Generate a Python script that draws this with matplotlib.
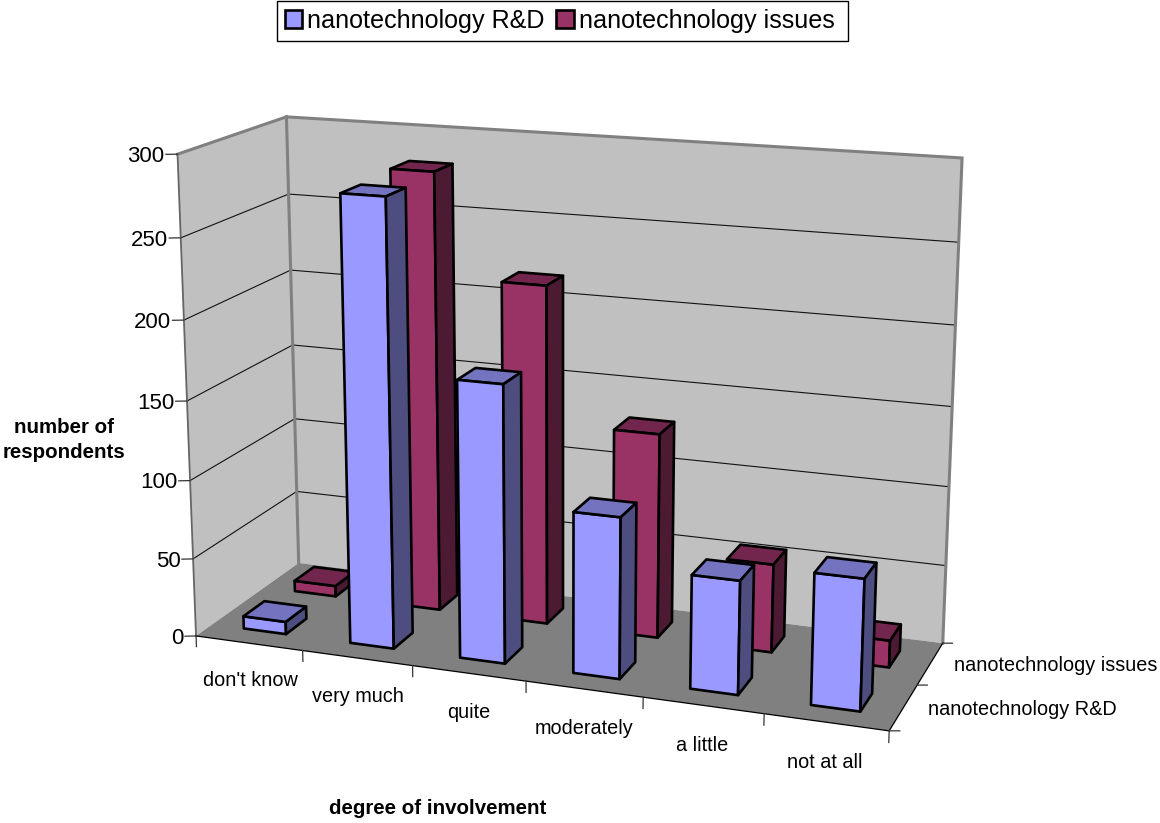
import numpy as np
import matplotlib
matplotlib.use('Agg')
import matplotlib.pyplot as plt
from matplotlib.patches import Patch, Rectangle
from mpl_toolkits.mplot3d import proj3d
from mpl_toolkits.mplot3d.art3d import Poly3DCollection, Line3DCollection

plt.rcParams['font.family'] = ['Liberation Sans', 'DejaVu Sans']

# Data
categories = ["don't know", 'very much', 'quite', 'moderately', 'a little', 'not at all']
series_names = ['nanotechnology R&D', 'nanotechnology issues']
rd_values = [8, 279, 173, 100, 70, 80]
issues_values = [7, 281, 216, 130, 56, 17]
z_ticks = [0, 50, 100, 150, 200, 250, 300]

blue = ['#9999FF', '#4D4D80', '#7373BF']
plum = ['#993366', '#4D1A33', '#73264D']

W, H = 1160, 823

# Box corners (x, y, z) and where they land in the picture, in pixels.
box_pts = [(0, 0, 0), (6, 0, 0), (6, 2, 0), (0, 2, 0), (0, 0, 300), (0, 2, 300), (6, 2, 300)]
pix_pts = [(196.7, 636), (889, 731), (943, 643), (298, 563), (177, 154), (287, 117), (962, 158)]

# Solve the camera matrix from the corners
A, b = [], []
for (x, y, z), (u, v) in zip(box_pts, pix_pts):
    A.append([x, y, z, 1, 0, 0, 0, 0, -u * x, -u * y, -u * z])
    A.append([0, 0, 0, 0, x, y, z, 1, -v * x, -v * y, -v * z])
    b += [u, v]
p = np.linalg.lstsq(np.array(A, float), np.array(b, float), rcond=None)[0]
M = np.array([p[:4], p[4:8], [0, 0, 0, 1], [p[8], p[9], p[10], 1]])

fig = plt.figure(figsize=(W / 100, H / 100), dpi=100)
ax = fig.add_axes([0, 0, 1, 1], projection='3d')
ax.get_proj = lambda: M
ax.apply_aspect = lambda position=None: None
ax.computed_zorder = False
ax.set_axis_off()
ax.viewLim.intervalx = (0, W)
ax.viewLim.intervaly = (H, 0)


def line3d(pts, color, lw, zorder=3):
    ax.add_collection3d(Line3DCollection([pts], colors=color, linewidths=lw, zorder=zorder,
                                         capstyle='projecting', joinstyle='miter'))


def label3d(x, y, z, s, dy=0, **kw):
    # Text3D has no usable extent, so place plain text at the projected point
    u, v, _ = proj3d.proj_transform(x, y, z, M)
    fig.text(float(u) / W, 1 - (float(v) + dy) / H, s, va='center', **kw)


# Walls and floor
walls = [
    ([(0, 0, 0), (0, 2, 0), (0, 2, 300), (0, 0, 300)], '#C0C0C0'),
    ([(0, 2, 0), (6, 2, 0), (6, 2, 300), (0, 2, 300)], '#C0C0C0'),
    ([(0, 0, 0), (6, 0, 0), (6, 2, 0), (0, 2, 0)], '#808080'),
]
for verts, col in walls:
    ax.add_collection3d(Poly3DCollection([verts], facecolors=col, edgecolors='none', zorder=1))

# Gridlines
for z in z_ticks[1:]:
    line3d([(0, 0, z), (0, 2, z), (6, 2, z)], '#111111', 0.8, 2)

# Wall borders
line3d([(0, 0, 300), (0, 2, 300), (0, 2, 0)], '#808080', 2.2)
line3d([(0, 2, 300), (6, 2, 300), (6, 2, 0)], '#808080', 2.2)
line3d([(0, 0, 0), (0, 0, 300)], '#666666', 1.3)
line3d([(0, 0, 0), (6, 0, 0), (6, 2, 0)], 'k', 0.9)

# Ticks
for z in z_ticks:
    line3d([(0, 0, z), (-0.085, -0.038, z)], '#333333', 0.9)
    label3d(-0.095, -0.042, z, str(z), dy=2, ha='right', fontsize=16)
for i in range(7):
    line3d([(i, 0, 0), (i, 0, -7)], '#333333', 0.9)
for i, name in enumerate(categories):
    label3d(i + 0.5, 0, -24, name, dy=1, ha='center', fontsize=14.3)
for s in range(3):
    line3d([(6, s, 0), (6.077, s + 0.028, 0)], '#333333', 0.9)
for s, name in enumerate(series_names):
    label3d(6.2, s + 0.5, 0, name, dy=-1, ha='left', fontsize=14.3)

# Bars, back row first, left to right
order = 10
for s, values, cols in [(1, issues_values, plum), (0, rd_values, blue)]:
    for i, h in enumerate(values):
        x0, x1 = i + 0.3, i + 0.7
        y0, y1 = s + 0.3, s + 0.7
        faces = [
            [(x0, y0, 0), (x1, y0, 0), (x1, y0, h), (x0, y0, h)],
            [(x1, y0, 0), (x1, y1, 0), (x1, y1, h), (x1, y0, h)],
            [(x0, y0, h), (x1, y0, h), (x1, y1, h), (x0, y1, h)],
        ]
        ax.add_collection3d(Poly3DCollection(faces, facecolors=cols, edgecolors='k',
                                             linewidths=1.9, zorder=order))
        order += 1

# Axis titles
fig.text(64.5 / W, 1 - 440 / H, 'number of\nrespondents', ha='center', va='center',
         fontsize=14.8, fontweight='bold', linespacing=1.4)
fig.text(438 / W, 1 - 809 / H, 'degree of involvement', ha='center', va='center',
         fontsize=14.8, fontweight='bold')

# Legend, its box has more room on the right than on the left
fig.add_artist(Rectangle((277 / W, 1 - 41 / H), 571 / W, 40 / H, transform=fig.transFigure,
                         facecolor='w', edgecolor='k', lw=1, zorder=1))
handles = [Patch(facecolor=blue[0], edgecolor='k', lw=1.9), Patch(facecolor=plum[0], edgecolor='k', lw=1.9)]
fig.legend(handles, series_names, ncol=2, loc='upper left', bbox_to_anchor=(277 / W, 1 - 1 / H),
           fontsize=18.1, frameon=False, borderaxespad=0, borderpad=0.3,
           handlelength=0.7, handleheight=0.7, handletextpad=0.2, columnspacing=0.45)

fig.savefig('out.png', dpi=100)
